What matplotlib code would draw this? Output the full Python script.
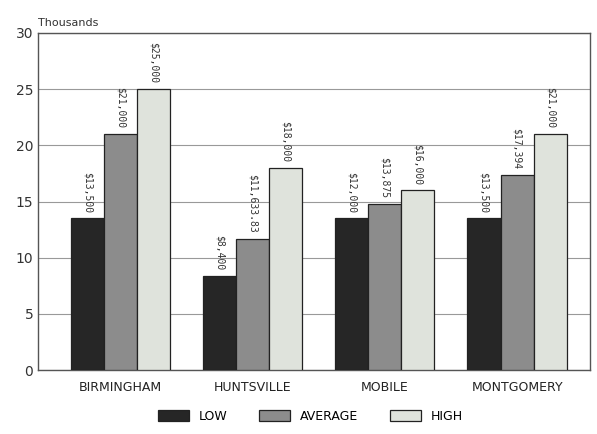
import numpy as np
import matplotlib.pyplot as plt

cities = ['BIRMINGHAM', 'HUNTSVILLE', 'MOBILE', 'MONTGOMERY']
low = [13.5, 8.4, 13.5, 13.5]
average = [21.0, 11.7, 14.8, 17.4]
high = [25.0, 18.0, 16.0, 21.0]
low_lbl = ['$13,500', '$8,400', '$12,000', '$13,500']
avg_lbl = ['$21,000', '$11,633.83', '$13,875', '$17,394']
high_lbl = ['$25,000', '$18,000', '$16,000', '$21,000']

fig = plt.figure(figsize=(5.97, 4.34), dpi=100)
ax = fig.add_axes([0.064, 0.147, 0.924, 0.777])

x = np.arange(len(cities))
w = 0.25
series = [(low, low_lbl, '#262626', 'LOW'),
          (average, avg_lbl, '#8c8c8c', 'AVERAGE'),
          (high, high_lbl, '#dfe3dc', 'HIGH')]
for i, (vals, lbls, col, name) in enumerate(series):
    pos = x + (i - 1) * w
    ax.bar(pos, vals, w, color=col, edgecolor='#222222', linewidth=0.9, label=name, zorder=3)
    for p, v, t in zip(pos, vals, lbls):
        ax.text(p, v + 0.5, t, rotation=-90, ha='center', va='bottom',
                fontsize=7, family='DejaVu Sans Mono', color='#333333')

ax.set_ylim(0, 30)
ax.set_xlim(-0.62, 3.55)
ax.set_yticks(range(0, 31, 5))
ax.yaxis.grid(True, color='#999999', linewidth=0.8, zorder=0)
ax.set_xticks(x)
ax.set_xticklabels(cities, fontsize=9, color='#222222')
ax.tick_params(axis='x', length=0, pad=8)
ax.tick_params(axis='y', length=0, labelsize=10, colors='#333333')
for s in ax.spines.values():
    s.set_color('#555555')
    s.set_linewidth(1.0)

fig.text(0.064, 0.94, 'Thousands', fontsize=8, color='#333333')

fig.legend(loc='lower center', bbox_to_anchor=(0.52, 0.0), ncol=3, frameon=False,
           fontsize=9, handlelength=2.5, handleheight=1.0, columnspacing=2.5)

fig.savefig('out.png', dpi=100)
